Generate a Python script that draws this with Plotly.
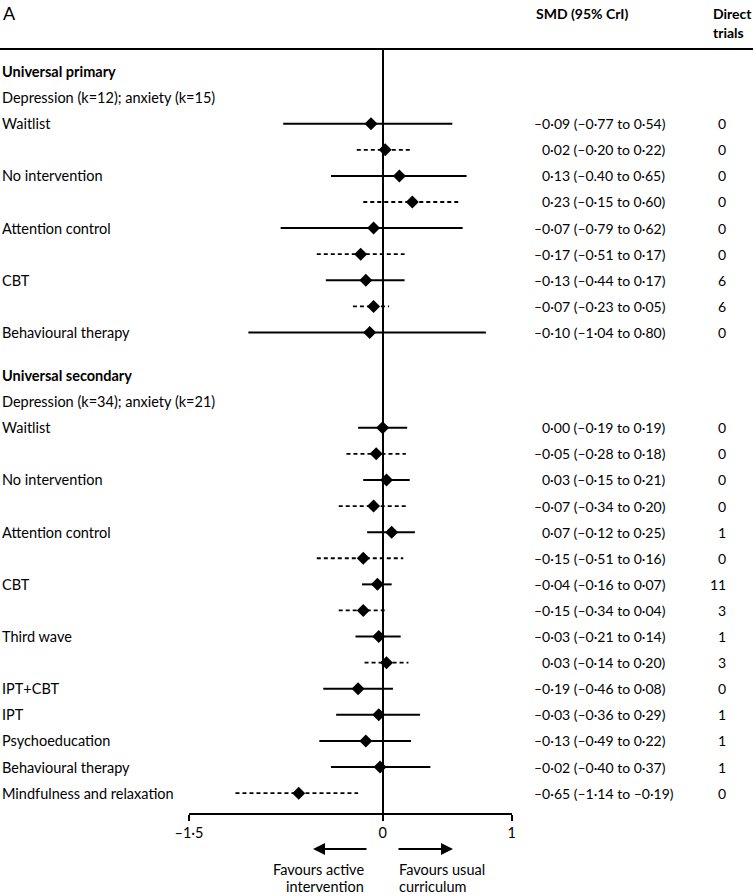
import plotly.graph_objects as go

W, H = 753, 896
FONT = "Lato"
FS = 14.5        # row labels
FS_NUM = 14      # numeric columns
FS_HEAD = 14     # bold column headers

# ---------------- data ----------------
panel_label = "A"
header_smd = "SMD (95% CrI)"
header_direct = ["Direct", "trials"]
section_titles = ["Universal primary", "Universal secondary"]
section_subtitles = ["Depression (k=12); anxiety (k=15)",
                     "Depression (k=34); anxiety (k=21)"]

row_section = [0] * 9 + [1] * 15
comparators = ["Waitlist", "", "No intervention", "", "Attention control", "",
               "CBT", "", "Behavioural therapy",
               "Waitlist", "", "No intervention", "", "Attention control", "",
               "CBT", "", "Third wave", "", "IPT+CBT", "IPT", "Psychoeducation",
               "Behavioural therapy", "Mindfulness and relaxation"]
outcomes = ["Depression", "Anxiety", "Depression", "Anxiety", "Depression", "Anxiety",
            "Depression", "Anxiety", "Depression",
            "Depression", "Anxiety", "Depression", "Anxiety", "Depression", "Anxiety",
            "Depression", "Anxiety", "Depression", "Anxiety", "Depression", "Depression",
            "Depression", "Depression", "Anxiety"]
smd = [-0.09, 0.02, 0.13, 0.23, -0.07, -0.17, -0.13, -0.07, -0.10,
       0.00, -0.05, 0.03, -0.07, 0.07, -0.15, -0.04, -0.15, -0.03, 0.03,
       -0.19, -0.03, -0.13, -0.02, -0.65]
lower = [-0.77, -0.20, -0.40, -0.15, -0.79, -0.51, -0.44, -0.23, -1.04,
         -0.19, -0.28, -0.15, -0.34, -0.12, -0.51, -0.16, -0.34, -0.21, -0.14,
         -0.46, -0.36, -0.49, -0.40, -1.14]
upper = [0.54, 0.22, 0.65, 0.60, 0.62, 0.17, 0.17, 0.05, 0.80,
         0.19, 0.18, 0.21, 0.20, 0.25, 0.16, 0.07, 0.04, 0.14, 0.20,
         0.08, 0.29, 0.22, 0.37, -0.19]
smd_text = ["–0·09 (–0·77 to 0·54)", "0·02 (–0·20 to 0·22)", "0·13 (–0.40 to 0·65)",
            "0·23 (–0·15 to 0·60)", "–0·07 (–0·79 to 0·62)", "–0·17 (–0·51 to 0·17)",
            "–0·13 (–0·44 to 0·17)", "–0·07 (–0·23 to 0·05)", "–0·10 (–1·04 to 0·80)",
            "0·00 (–0·19 to 0·19)", "–0·05 (–0·28 to 0·18)", "0·03 (–0·15 to 0·21)",
            "–0·07 (–0·34 to 0·20)", "0·07 (–0·12 to 0·25)", "–0·15 (–0·51 to 0·16)",
            "–0·04 (–0·16 to 0·07)", "–0·15 (–0·34 to 0·04)", "–0·03 (–0·21 to 0·14)",
            "0·03 (–0·14 to 0·20)", "–0·19 (–0·46 to 0·08)", "–0·03 (–0·36 to 0·29)",
            "–0·13 (–0·49 to 0·22)", "–0·02 (–0·40 to 0·37)", "–0·65 (–1·14 to –0·19)"]
direct_trials = [0, 0, 0, 0, 0, 0, 6, 6, 0,
                 0, 0, 0, 0, 1, 0, 11, 3, 1, 3, 0, 1, 1, 1, 0]
x_ticks = [-1.5, 0, 1]
x_tick_labels = ["–1·5", "0", "1"]
favour_left = ["Favours active", "intervention"]
favour_right = ["Favours usual", "curriculum"]

# ---------------- layout helpers ----------------
ROW0_PX, ROW_PX, SECTION_GAP = 71.5, 26.1, 0.65
TOP_LINE_PX, AXIS_PX = 50, 813
X_LEFT_PX, X_RIGHT_PX = 189, 511.7


def px_x(p):
    return p / W


def px_y(p):
    return 1 - p / H


section_base = [0.0, 11 + SECTION_GAP]
row_pos = []
counters = [0, 0]
for s in row_section:
    row_pos.append(section_base[s] + 2 + counters[s])
    counters[s] += 1

y_top = (TOP_LINE_PX - ROW0_PX) / ROW_PX
y_bot = (AXIS_PX - ROW0_PX) / ROW_PX

fig = go.Figure()

for style, dash in (("Depression", "solid"), ("Anxiety", "4px,3px")):
    xs, ys = [], []
    for o, lo, hi, y in zip(outcomes, lower, upper, row_pos):
        if o == style:
            xs += [lo, hi, None]
            ys += [y, y, None]
    fig.add_trace(go.Scatter(x=xs, y=ys, mode="lines",
                             line=dict(color="black", width=2 if dash == "solid" else 1.8, dash=dash),
                             hoverinfo="skip", showlegend=False))

fig.add_trace(go.Scatter(x=smd, y=row_pos, mode="markers",
                         marker=dict(symbol="diamond", size=10, color="black"),
                         showlegend=False))

ann = []
tf = dict(family=FONT, size=FS, color="black")
nf = dict(family=FONT, size=FS_NUM, color="black")
hf = dict(family=FONT, size=FS_HEAD, color="black")

ann.append(dict(x=px_x(1), y=px_y(13), xref="paper", yref="paper", text=panel_label,
                xanchor="left", yanchor="middle", showarrow=False,
                font=dict(family=FONT, size=18, color="black")))
ann.append(dict(x=px_x(534), y=px_y(13), xref="paper", yref="paper", text="<b>" + header_smd + "</b>",
                xanchor="left", yanchor="middle", showarrow=False, font=hf))
for i, t in enumerate(header_direct):
    ann.append(dict(x=px_x(711), y=px_y(13 + 20 * i), xref="paper", yref="paper", text="<b>" + t + "</b>",
                    xanchor="left", yanchor="middle", showarrow=False, font=hf))

for s in range(2):
    ann.append(dict(x=px_x(0), y=section_base[s], xref="paper", yref="y",
                    text="<b>" + section_titles[s] + "</b>", xanchor="left", yanchor="middle",
                    showarrow=False, font=tf))
    ann.append(dict(x=px_x(0), y=section_base[s] + 1, xref="paper", yref="y",
                    text=section_subtitles[s], xanchor="left", yanchor="middle",
                    showarrow=False, font=tf))

for lab, y, st, dt in zip(comparators, row_pos, smd_text, direct_trials):
    if lab:
        ann.append(dict(x=px_x(0), y=y, xref="paper", yref="y", text=lab,
                        xanchor="left", yanchor="middle", showarrow=False, font=tf))
    xs = 532 if st.startswith("–") else 540
    ann.append(dict(x=px_x(xs), y=y, xref="paper", yref="y", text=st,
                    xanchor="left", yanchor="middle", showarrow=False, font=nf))
    ann.append(dict(x=px_x(728), y=y, xref="paper", yref="y", text=str(dt),
                    xanchor="right", yanchor="middle", showarrow=False, font=nf))

ann.append(dict(x=px_x(313), y=px_y(849), xref="paper", yref="paper", text="",
                showarrow=True, ax=55, ay=0, axref="pixel", ayref="pixel",
                arrowhead=2, arrowsize=1.2, arrowwidth=2, arrowcolor="black", standoff=0))
ann.append(dict(x=px_x(453), y=px_y(849), xref="paper", yref="paper", text="",
                showarrow=True, ax=-56, ay=0, axref="pixel", ayref="pixel",
                arrowhead=2, arrowsize=1.2, arrowwidth=2, arrowcolor="black", standoff=0))
for i, t in enumerate(favour_left):
    ann.append(dict(x=px_x(366), y=px_y(869 + 17 * i), xref="paper", yref="paper", text=t,
                    xanchor="right", yanchor="middle", showarrow=False, font=tf))
for i, t in enumerate(favour_right):
    ann.append(dict(x=px_x(397), y=px_y(869 + 17 * i), xref="paper", yref="paper", text=t,
                    xanchor="left", yanchor="middle", showarrow=False, font=tf))

fig.update_layout(
    template="none",
    width=W, height=H,
    margin=dict(l=0, r=0, t=0, b=0, pad=0, autoexpand=False),
    paper_bgcolor="white", plot_bgcolor="white",
    annotations=ann,
    shapes=[dict(type="line", xref="paper", yref="paper", x0=0, x1=1,
                 y0=px_y(49), y1=px_y(49), line=dict(color="black", width=2))],
    xaxis=dict(domain=[px_x(X_LEFT_PX), px_x(X_RIGHT_PX)], range=[-1.5, 1],
               automargin=False,
               showgrid=False, zeroline=True, zerolinecolor="black", zerolinewidth=2,
               showline=True, linecolor="black", linewidth=2,
               ticks="outside", ticklen=6, tickwidth=2, tickcolor="black",
               tickvals=x_ticks, ticktext=x_tick_labels,
               tickfont=dict(family=FONT, size=FS, color="black")),
    yaxis=dict(domain=[px_y(AXIS_PX), px_y(TOP_LINE_PX)], range=[y_bot, y_top],
               automargin=False,
               showgrid=False, zeroline=False, showticklabels=False, showline=False, ticks=""),
)

fig.write_html("out.html",
               config={"displayModeBar": False},
               post_script="document.body.style.margin='0';document.body.style.overflow='hidden';")
